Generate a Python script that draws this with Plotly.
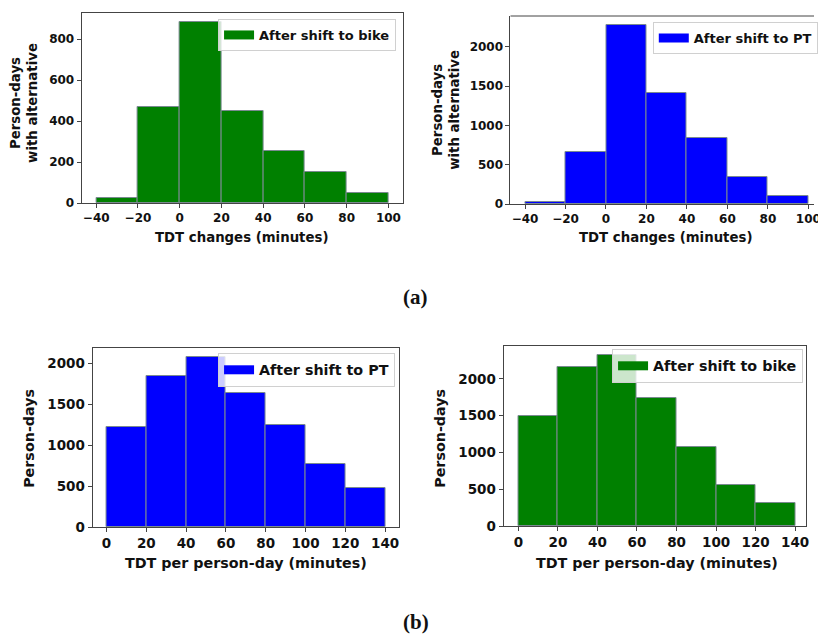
import plotly.graph_objects as go

W, H = 818, 640

# ---- data ----
edges_a = [-40, -20, 0, 20, 40, 60, 80, 100]
bike_change = [24, 467, 884, 451, 256, 149, 49]
pt_change = [20, 665, 2277, 1408, 836, 347, 102]

edges_b = [0, 20, 40, 60, 80, 100, 120, 140]
pt_tdt = [1225, 1850, 2083, 1642, 1246, 768, 478]
bike_tdt = [1499, 2163, 2330, 1740, 1080, 559, 318]

GREEN = "#008000"
BLUE = "#0000ff"
FONT = "DejaVu Sans"

def centers(e):
    return [(e[i] + e[i + 1]) / 2 for i in range(len(e) - 1)]

def widths(e):
    return [e[i + 1] - e[i] for i in range(len(e) - 1)]

def px(x):
    return x / W

def py(y):
    return 1 - y / H

fig = go.Figure()

# (edges, counts, color, name, xdom px, ydom px, xrange, yrange, ytick step, legend, tick size, legend size)
panels = [
    (edges_a, bike_change, GREEN, "After shift to bike", (82, 405), (13, 203), (-47, 107), (0, 928), 200, ("right", 398, 19), 12, 13),
    (edges_a, pt_change, BLUE, "After shift to PT", (513, 818), (16, 204), (-47.2, 102.8), (0, 2391), 500, ("left", 656, 22), 12, 13),
    (edges_b, pt_tdt, BLUE, "After shift to PT", (93, 401), (348, 527), (-7, 147), (0, 2187), 500, ("right", 397, 353), 13.5, 14.3),
    (edges_b, bike_tdt, GREEN, "After shift to bike", (506, 810), (346, 526), (-7.5, 145.5), (0, 2446), 500, ("right", 807, 349), 13.5, 14.3),
]

for i, (e, c, col, name, xd, yd, xr, yr, step, lg, ts, ls) in enumerate(panels):
    n = "" if i == 0 else str(i + 1)
    lname = "legend" if i == 0 else f"legend{i + 1}"
    tickfont = dict(family=FONT, size=ts, color="#111", weight="bold")
    fig.add_trace(go.Bar(
        x=centers(e), y=c, width=widths(e), name=name,
        marker=dict(color=col, line=dict(color="#7a8a90", width=1)),
        xaxis="x" + n, yaxis="y" + n, showlegend=False,
    ))
    # legend entry drawn as a wide patch
    fig.add_trace(go.Scatter(
        x=[None], y=[None], mode="lines", name=name,
        line=dict(color=col, width=9),
        xaxis="x" + n, yaxis="y" + n, legend=lname, showlegend=True,
    ))
    mirror = True if i != 1 else False
    fig.layout["xaxis" + n] = dict(
        domain=[px(xd[0]), min(1, px(xd[1]))], range=list(xr), anchor="y" + n,
        tickmode="linear", tick0=e[0], dtick=20,
        showline=True, linecolor="#444", linewidth=1, mirror=mirror,
        ticks="outside", ticklen=4, tickcolor="#444", showgrid=False, zeroline=False,
        tickfont=tickfont, automargin=False, ticklabeloverflow="allow",
    )
    fig.layout["yaxis" + n] = dict(
        domain=[py(yd[1]), py(yd[0])], range=list(yr), anchor="x" + n,
        tickmode="linear", tick0=0, dtick=step,
        showline=True, linecolor="#444", linewidth=1, mirror=mirror,
        ticks="outside", ticklen=4, tickcolor="#444", showgrid=False, zeroline=False,
        tickfont=tickfont, automargin=False,
    )
    anchor, lx, ly = lg
    fig.layout[lname] = dict(
        x=px(lx), y=py(ly), xanchor=anchor, yanchor="top", xref="paper", yref="paper",
        bgcolor="rgba(255,255,255,0.8)", bordercolor="#d0d0d0", borderwidth=1,
        font=dict(family=FONT, size=ls, color="#111", weight="bold"),
    )

fig.add_shape(type="line", xref="x2 domain", yref="y2 domain", x0=0, x1=1, y0=1, y1=1,
              line=dict(color="#444", width=1))

ann = [
    ("TDT changes (minutes)", 243, 238, 0, 13.3),
    ("TDT changes (minutes)", 669, 238, 0, 13.3),
    ("TDT per person-day (minutes)", 247, 563, 0, 14.3),
    ("TDT per person-day (minutes)", 660, 563, 0, 14.3),
    ("Person-days<br>with alternative", 24, 103, -90, 13.3),
    ("Person-days<br>with alternative", 448, 110, -90, 13.3),
    ("Person-days", 29, 438, -90, 14.3),
    ("Person-days", 442, 438, -90, 14.3),
]
for t, x, y, a, s in ann:
    fig.add_annotation(text="<b>" + t + "</b>", x=px(x), y=py(y), xref="paper", yref="paper",
                       showarrow=False, textangle=a,
                       font=dict(family=FONT, size=s, color="#111"),
                       xanchor="center", yanchor="middle")

for t, x, y in [("(a)", 418, 297), ("(b)", 418, 622)]:
    fig.add_annotation(text="<b>" + t + "</b>", x=px(x), y=py(y), xref="paper", yref="paper",
                       showarrow=False, font=dict(family="Liberation Serif", size=21, color="#111"),
                       xanchor="center", yanchor="middle")

fig.update_layout(
    width=W, height=H, margin=dict(l=0, r=0, t=0, b=0),
    paper_bgcolor="white", plot_bgcolor="white", bargap=0,
    font=dict(family=FONT),
)

post = (
    "document.body.style.margin='0px';"
    "document.body.style.overflow='hidden';"
    "document.documentElement.style.overflow='hidden';"
    "var d=document.getElementById('{plot_id}');d.style.overflow='hidden';"
)
fig.write_html("out.html", config={"displayModeBar": False}, post_script=post)
